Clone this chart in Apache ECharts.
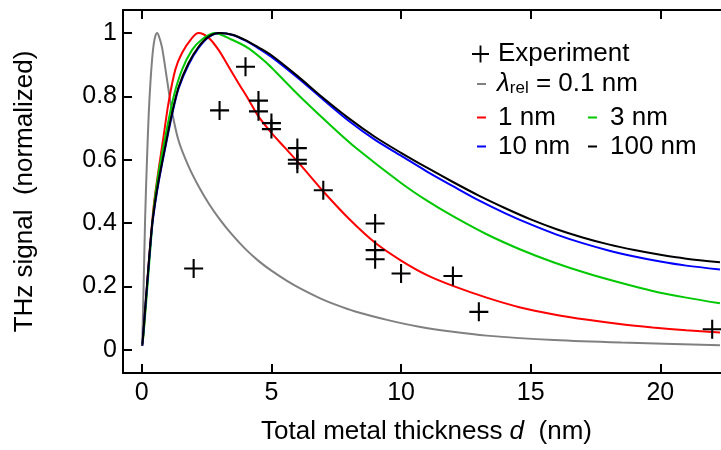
<!DOCTYPE html>
<html>
<head>
<meta charset="utf-8">
<script src="https://cdn.jsdelivr.net/npm/echarts@6/dist/echarts.min.js"></script>
<style>
html,body{margin:0;padding:0;background:#fff;}
#chart{width:721px;height:450px;}
</style>
</head>
<body>
<div id="chart"></div>
<script>
// ---- data ----
const xTicks = [0, 5, 10, 15, 20];
const yTicks = [0, 0.2, 0.4, 0.6, 0.8, 1];

const experiment = [
  [2, 0.257], [3, 0.756], [4, 0.894], [4.5, 0.787], [4.5, 0.753],
  [5, 0.716], [5, 0.697], [6, 0.637], [6, 0.600], [6, 0.588],
  [7, 0.504], [9, 0.399], [9, 0.315], [9, 0.286], [10, 0.241],
  [12, 0.233], [13, 0.120], [22, 0.065]
];

const lam01 = [
  [0.02,0.03],[0.07,0.2],[0.13,0.42],[0.2,0.6],[0.27,0.75],[0.33,0.84],[0.4,0.92],
  [0.46,0.965],[0.52,0.99],[0.59,1.0],[0.66,0.99],[0.78,0.955],[0.97,0.855],
  [1.16,0.755],[1.42,0.66],[1.8,0.58],[2.2,0.515],[2.6,0.46],[3.0,0.413],
  [3.5,0.362],[4.0,0.318],[4.5,0.281],[5.0,0.25],[5.6,0.218],[6.2,0.19],
  [6.9,0.162],[7.5,0.142],[8.2,0.122],[9.5,0.094],[10.7,0.073],[12,0.057],
  [13.3,0.045],[15.9,0.031],[18.5,0.023],[22.3,0.015]
];

const lam1 = [
  [0.02,0.02],[0.07,0.055],[0.26,0.265],[0.46,0.455],[0.65,0.57],[0.84,0.674],
  [1.03,0.78],[1.29,0.884],[1.55,0.937],[1.94,0.985],[2.19,1.0],[2.58,0.985],
  [2.96,0.947],[3.35,0.894],[3.73,0.842],[4.12,0.79],[4.5,0.737],[5.0,0.685],
  [5.5,0.64],[6.0,0.595],[6.5,0.548],[7.0,0.5],[8.0,0.413],[9.0,0.338],
  [10.0,0.282],[11.0,0.236],[12.0,0.202],[13.3,0.165],[14.6,0.134],[15.9,0.112],
  [17.2,0.095],[18.5,0.081],[19.7,0.071],[21.0,0.062],[22.3,0.055]
];

const lam3 = [
  [0.02,0.02],[0.07,0.05],[0.26,0.245],[0.46,0.445],[0.65,0.56],[0.91,0.674],
  [1.23,0.8],[1.55,0.884],[1.94,0.947],[2.32,0.98],[2.8,1.0],[3.48,0.979],
  [4.12,0.952],[4.76,0.91],[5.15,0.879],[6.1,0.80],[7.4,0.70],[8.3,0.635],
  [10.0,0.527],[11.0,0.471],[12.0,0.422],[13.3,0.365],[14.6,0.317],
  [15.9,0.276],[17.2,0.241],[18.5,0.211],[19.7,0.186],[21.0,0.165],[22.3,0.147]
];

const lam10 = [
  [0.02,0.013],[0.2,0.2],[0.39,0.385],[0.52,0.465],[0.65,0.53],[0.91,0.64],
  [1.16,0.74],[1.42,0.825],[1.8,0.9],[2.19,0.953],[2.58,0.987],[3.0,1.0],
  [3.5,0.994],[4.0,0.976],[4.5,0.952],[5,0.925],[6,0.86],[7,0.79],[8,0.722],
  [9,0.663],[10,0.613],[11,0.563],[12,0.517],[13,0.472],[14,0.432],[15,0.396],
  [16,0.364],[17,0.337],[18,0.314],[19,0.295],[20,0.279],[21,0.266],[22.3,0.254]
];

const lam100 = [
  [0.02,0.013],[0.2,0.205],[0.39,0.39],[0.52,0.47],[0.65,0.535],[0.91,0.645],
  [1.16,0.745],[1.42,0.83],[1.8,0.905],[2.19,0.957],[2.58,0.989],[3.0,1.0],
  [3.5,0.995],[4.0,0.978],[4.5,0.955],[5,0.93],[6,0.865],[7,0.795],[8,0.73],
  [9,0.672],[10,0.622],[11,0.575],[12,0.53],[13,0.487],[14,0.448],[15,0.412],
  [16,0.381],[17,0.355],[18,0.333],[19,0.315],[20,0.3],[21,0.288],[22.3,0.277]
];

const names = ['Experiment', 'λrel = 0.1 nm', '1 nm', '3 nm', '10 nm', '100 nm'];

// ---- chart ----
const FONT = '"Liberation Sans", Arial, Helvetica, sans-serif';
const FS = 25;     // tick labels
const FT = 26;     // titles and legend
const PLUS = 'path://M0,8.9H20V11.1H0ZM8.9,0H11.1V20H8.9Z';

const axisLineStyle = { show: true, onZero: false, lineStyle: { color: '#000', width: 2 } };
function ticks(values) {
  return { show: true, inside: true, length: 9, customValues: values,
           lineStyle: { color: '#000', width: 2 } };
}

const chart = echarts.init(document.getElementById('chart'), null, { renderer: 'canvas' });

function lineSeries(name, data, color, z) {
  return {
    name: name, type: 'line', data: data, showSymbol: false, symbol: 'none',
    smooth: 0.3, z: z, color: color,
    lineStyle: { color: color, width: 2 },
    emphasis: { disabled: true }, animation: false
  };
}

const legendText = (padLeft) => ({
  color: '#000', fontSize: FT, fontFamily: FONT, lineHeight: 25,
  padding: [0, 0, 0, padLeft],
  rich: {
    l: { fontStyle: 'italic', fontSize: FT, fontFamily: FONT, lineHeight: 25, color: '#000' },
    s: { fontSize: 17, fontFamily: FONT, lineHeight: 4, verticalAlign: 'bottom', color: '#000' },
    n: { fontSize: FT, fontFamily: FONT, lineHeight: 25, color: '#000' }
  }
});

chart.setOption({
  animation: false,
  backgroundColor: '#fff',
  textStyle: { fontFamily: FONT },
  grid: { left: 123, right: 0, top: 10, bottom: 76, containLabel: false },
  legend: [
    { data: [names[0]], left: 472, top: 41, padding: 0, selectedMode: false,
      icon: PLUS, itemWidth: 17, itemHeight: 17, textStyle: legendText(4) },
    { data: [names[1]], left: 477, top: 71, padding: 0, selectedMode: false,
      icon: 'rect', itemWidth: 9, itemHeight: 2, textStyle: legendText(6),
      formatter: () => '{l|λ}{s|rel}{n| = 0.1 nm}' },
    { data: [names[2], names[4]], orient: 'vertical', left: 477, top: 104.5, itemGap: 3,
      padding: 0, selectedMode: false, icon: 'rect', itemWidth: 9, itemHeight: 2,
      textStyle: legendText(7) },
    { data: [names[3], names[5]], orient: 'vertical', left: 588, top: 104.5, itemGap: 3,
      padding: 0, selectedMode: false, icon: 'rect', itemWidth: 9, itemHeight: 2,
      textStyle: legendText(8) }
  ],
  xAxis: [
    {
      type: 'value', position: 'bottom', min: -0.725, max: 22.34,
      axisLine: axisLineStyle, axisTick: ticks(xTicks), splitLine: { show: false },
      axisLabel: { color: '#000', fontSize: FS, fontFamily: FONT, margin: 8, customValues: xTicks },
      name: '{a|Total metal thickness }{d|d}{a|  (nm)}',
      nameLocation: 'middle', nameGap: 46,
      nameTextStyle: { color: '#000', fontSize: FT, fontFamily: FONT, padding: [0, 0, 0, 9],
        rich: {
          a: { fontSize: FT, fontFamily: FONT, color: '#000' },
          d: { fontSize: FT, fontFamily: FONT, fontStyle: 'italic', color: '#000' }
        } }
    },
    {
      type: 'value', position: 'top', min: -0.725, max: 22.34,
      axisLine: axisLineStyle, axisTick: ticks(xTicks), splitLine: { show: false },
      axisLabel: { show: false }
    }
  ],
  yAxis: [
    {
      type: 'value', position: 'left', min: -0.073, max: 1.073,
      axisLine: axisLineStyle, axisTick: ticks(yTicks), splitLine: { show: false },
      axisLabel: { color: '#000', fontSize: FS, fontFamily: FONT, margin: 6, customValues: yTicks },
      name: 'THz signal  (normalized)', nameLocation: 'middle', nameGap: 85, nameRotate: 90,
      nameTextStyle: { color: '#000', fontSize: FT, fontFamily: FONT }
    }
  ],
  series: [
    lineSeries(names[1], lam01, '#808080', 2),
    lineSeries(names[2], lam1, '#ff0000', 3),
    lineSeries(names[3], lam3, '#00c800', 4),
    lineSeries(names[4], lam10, '#0000ff', 5),
    lineSeries(names[5], lam100, '#000000', 6),
    {
      name: names[0], type: 'scatter', data: experiment, symbol: PLUS, symbolSize: 19,
      itemStyle: { color: '#000', opacity: 1 }, z: 10, emphasis: { disabled: true }, animation: false
    }
  ]
});
</script>
</body>
</html>
